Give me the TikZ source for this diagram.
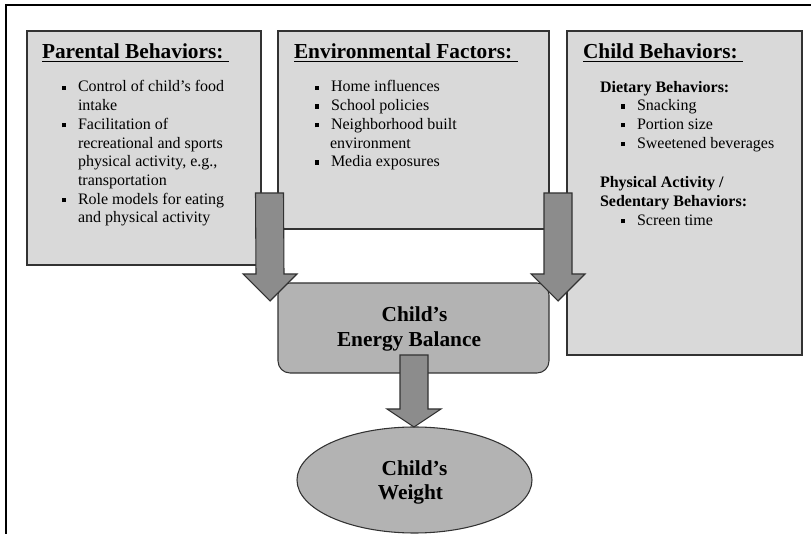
\documentclass[tikz,border=0pt]{standalone}
\usepackage{fontspec}
\setmainfont{Liberation Serif}
\usetikzlibrary{calc,shapes.geometric}
\definecolor{boxfill}{RGB}{217,217,217}
\definecolor{midfill}{RGB}{179,179,179}
\definecolor{arrfill}{RGB}{140,140,140}
\definecolor{edge}{RGB}{50,50,50}
\newcommand\mybul{\makebox[12pt][l]{\rule[1.5pt]{3.3pt}{3.3pt}}}
\newcommand\fatarrow[3]{% start, tip, head length
  \path[fatarr] ($(#1)+(-14,0)$) -- ($(#1)+(14,0)$) -- ($(#2)+(14,-#3)$) -- ($(#2)+(27,-#3)$) -- (#2) -- ($(#2)+(-27,-#3)$) -- ($(#2)+(-14,-#3)$) -- cycle;}
\begin{document}
\begin{tikzpicture}[x=0.75pt,y=-0.75pt,
  box/.style={draw=edge, fill=boxfill, line width=0.8pt, inner sep=0pt},
  midbox/.style={draw=edge, fill=midfill, line width=0.8pt, inner sep=0pt},
  fatarr/.style={draw=edge, fill=arrfill, line width=0.8pt, line join=miter},
  txt/.style={anchor=base west, inner sep=0pt, outer sep=0pt, font=\fontsize{12pt}{14pt}\selectfont},
  btxt/.style={txt, font=\fontsize{12pt}{14pt}\selectfont\bfseries},
  head/.style={anchor=base west, inner sep=0pt, outer sep=0pt, font=\fontsize{16pt}{19pt}\selectfont\bfseries},
  big/.style={anchor=base, inner sep=0pt, outer sep=0pt, font=\fontsize{16pt}{19pt}\selectfont\bfseries}]
\useasboundingbox (0,0) rectangle (811,534);
\fill[white] (0,0) rectangle (811,534);
% outer frame (cropped)
\draw[line width=1.6pt] (6,534) -- (6,5) -- (811,5);
% boxes
\node[box, minimum width=175.5pt, minimum height=175.5pt] (par) at (144,148) {};
\node[box, minimum width=203.25pt, minimum height=148.5pt] (env) at (413.5,130) {};
\node[box, minimum width=176.25pt, minimum height=243pt] (chi) at (684.5,193) {};
\node[midbox, rounded corners=9pt, minimum width=203.25pt, minimum height=67.5pt] (eb) at (413.5,328) {};
\node[midbox, ellipse, minimum width=176.25pt, minimum height=79.5pt] (wt) at (414.5,480) {};
% headers
\node[head] (h1) at (42,59) {\underline{Parental Behaviors:\ }};
\node[head] (h2) at (294,59) {\underline{Environmental Factors:\ }};
\node[head] (h3) at (583,59) {\underline{Child Behaviors:\ }};
% parental items
\node[txt] (p1) at (62,92) {\mybul Control of child’s food};
\node[txt] (p2) at (78,110.7) {intake};
\node[txt] (p3) at (62,129.4) {\mybul Facilitation of};
\node[txt] (p4) at (78,148.1) {recreational and sports};
\node[txt] (p5) at (78,166.8) {physical activity, e.g.,};
\node[txt] (p6) at (78,185.5) {transportation};
\node[txt] (p7) at (62,204.2) {\mybul Role models for eating};
\node[txt] (p8) at (78,222.9) {and physical activity};
% environmental items
\node[txt] (e1) at (315,92) {\mybul Home influences};
\node[txt] (e2) at (315,110.7) {\mybul School policies};
\node[txt] (e3) at (315,129.4) {\mybul Neighborhood built};
\node[txt] (e4) at (330,148.1) {environment};
\node[txt] (e5) at (315,166.8) {\mybul Media exposures};
% child items
\node[btxt] (c1) at (600,92.5) {Dietary Behaviors:};
\node[txt] (c2) at (621,110.7) {\mybul Snacking};
\node[txt] (c3) at (621,129.4) {\mybul Portion size};
\node[txt] (c4) at (621,148.1) {\mybul Sweetened beverages};
\node[btxt] (c5) at (600,188) {Physical Activity /};
\node[btxt] (c6) at (600,206.7) {Sedentary Behaviors:};
\node[txt] (c7) at (621,225.4) {\mybul Screen time};
% energy balance text
\node[big] (eb1) at (414.5,322) {Child’s};
\node[big] (eb2) at (409,347) {Energy Balance};
% weight text
\node[big] (w1) at (414.5,476) {Child’s};
\node[big] (w2) at (410.5,500) {Weight};
% block arrows
\coordinate (a1s) at (269.5,193); \coordinate (a1t) at (270,301);
\coordinate (a2s) at (558,193);   \coordinate (a2t) at (558,301);
\coordinate (a3s) at (414,355);   \coordinate (a3t) at (414,427);
\fatarrow{a1s}{a1t}{27}
\fatarrow{a2s}{a2t}{27}
\fatarrow{a3s}{a3t}{18}
\end{tikzpicture}
\end{document}
